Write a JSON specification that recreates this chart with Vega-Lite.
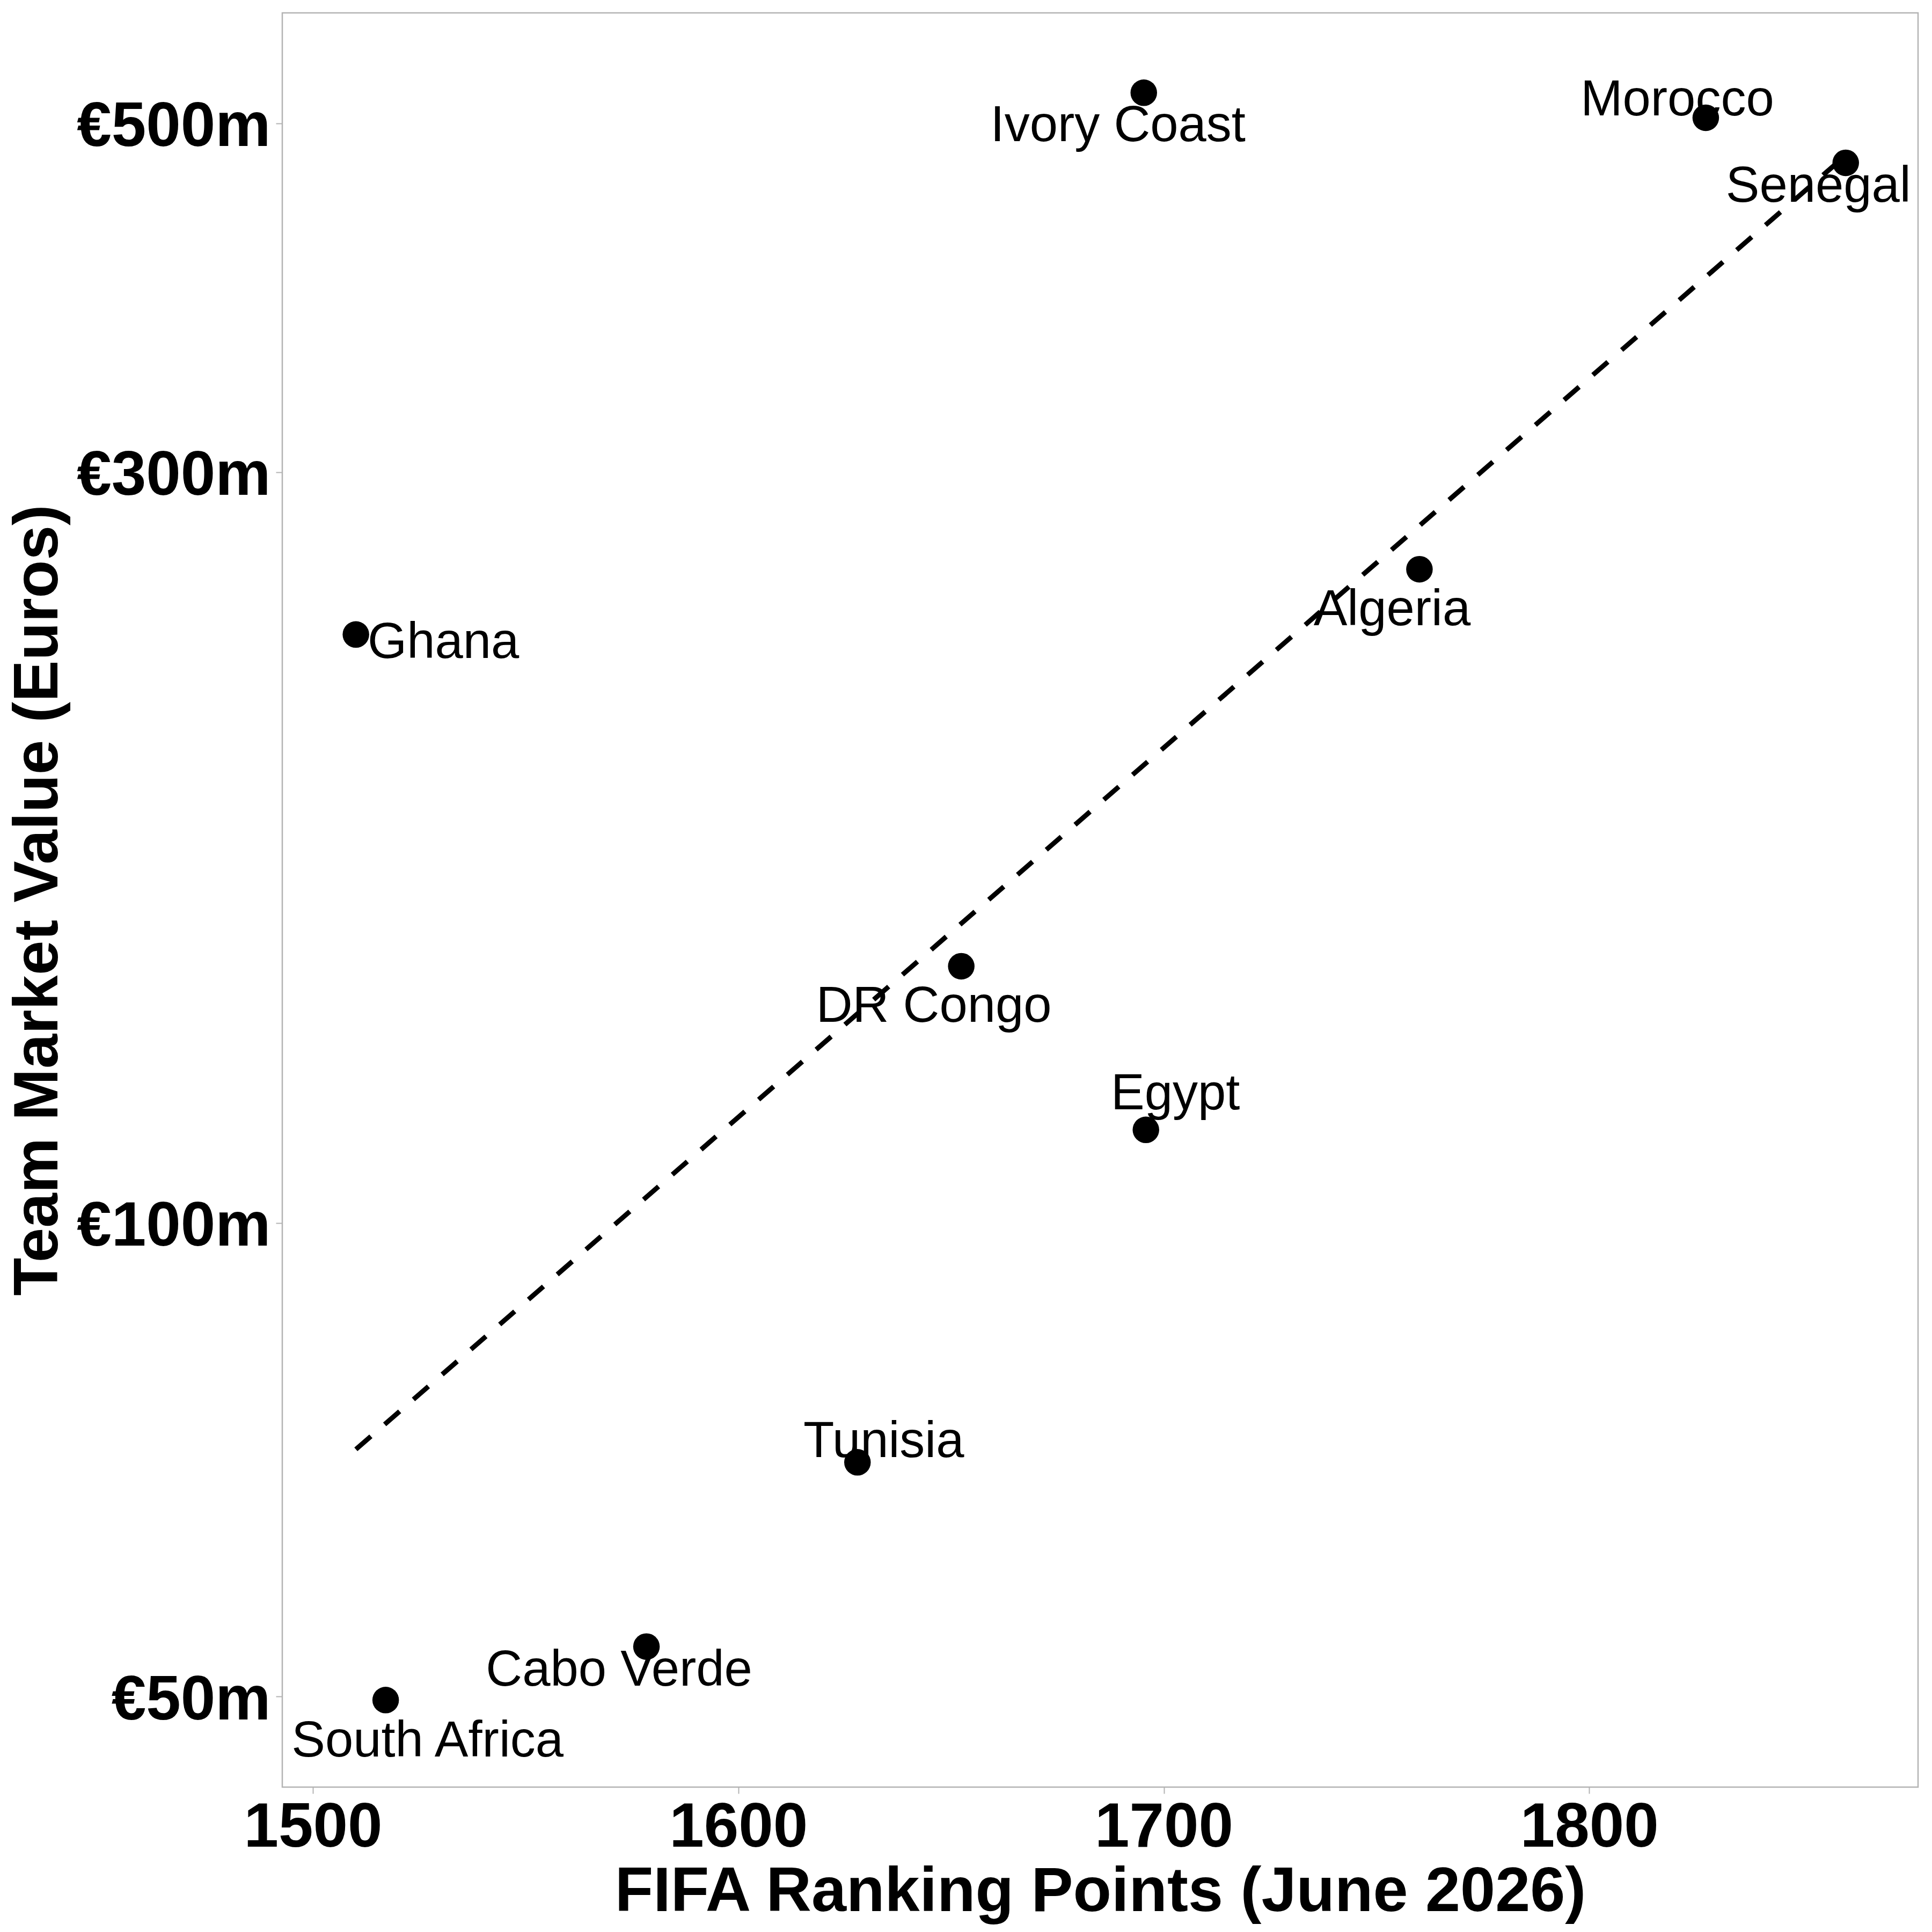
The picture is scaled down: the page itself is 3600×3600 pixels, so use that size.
{
  "$schema": "https://vega.github.io/schema/vega-lite/v6.json",
  "width": 3048,
  "height": 3306,
  "autosize": {"type": "none"},
  "padding": {"left": 526, "top": 24, "right": 26, "bottom": 270},
  "background": "white",
  "config": {
    "view": {"stroke": "#b3b3b3", "strokeWidth": 2.5},
    "font": "Liberation Sans"
  },
  "datasets": {
    "teams": [
      {"country": "Ivory Coast", "points": 1695.3, "value": 522.8},
      {"country": "Morocco", "points": 1827.4, "value": 504},
      {"country": "Senegal", "points": 1860.3, "value": 471.8},
      {"country": "Algeria", "points": 1760.1, "value": 260.3},
      {"country": "Ghana", "points": 1510.1, "value": 236.6},
      {"country": "DR Congo", "points": 1652.4, "value": 145.6},
      {"country": "Egypt", "points": 1695.8, "value": 114.6},
      {"country": "Tunisia", "points": 1628.0, "value": 70.45},
      {"country": "Cabo Verde", "points": 1578.4, "value": 53.8},
      {"country": "South Africa", "points": 1517.1, "value": 49.75}
    ],
    "trend": [
      {"points": 1510.1, "value": 71.8},
      {"points": 1860.3, "value": 477}
    ]
  },
  "data": {"name": "teams"},
  "encoding": {
    "x": {
      "field": "points",
      "type": "quantitative",
      "scale": {"domain": [1492.8, 1877.3], "nice": false, "zero": false},
      "axis": {
        "title": "FIFA Ranking Points (June 2026)",
        "values": [1500, 1600, 1700, 1800],
        "format": "d",
        "grid": false,
        "domain": false,
        "ticks": true,
        "tickColor": "#b3b3b3",
        "tickWidth": 2,
        "tickSize": 12,
        "labelFont": "Liberation Sans",
        "labelFontWeight": "bold",
        "labelFontSize": 116,
        "labelColor": "black",
        "labelPadding": 6,
        "labelBaseline": "top",
        "labelLimit": 2000,
        "labelFlush": false,
        "labelOverlap": false,
        "titleFont": "Liberation Sans",
        "titleFontWeight": "bold",
        "titleFontSize": 117,
        "titleColor": "black",
        "titleLimit": 4000,
        "titleX": 1524,
        "titleY": 230,
        "titleBaseline": "alphabetic",
        "titleAlign": "center"
      }
    },
    "y": {
      "field": "value",
      "type": "quantitative",
      "scale": {"type": "log", "domain": [43.8, 587.6], "nice": false},
      "axis": {
        "title": "Team Market Value (Euros)",
        "values": [50, 100, 300, 500],
        "labelExpr": "'€' + datum.value + 'm'",
        "grid": false,
        "domain": false,
        "ticks": true,
        "tickColor": "#b3b3b3",
        "tickWidth": 2,
        "tickSize": 12,
        "labelFont": "Liberation Sans",
        "labelFontWeight": "bold",
        "labelFontSize": 116,
        "labelColor": "black",
        "labelPadding": 10,
        "labelBaseline": "alphabetic",
        "labelOffset": 42,
        "labelLimit": 2000,
        "labelFlush": false,
        "labelOverlap": false,
        "titleFont": "Liberation Sans",
        "titleFontWeight": "bold",
        "titleFontSize": 116,
        "titleColor": "black",
        "titleLimit": 4000,
        "titleX": -420,
        "titleY": 1653,
        "titleAngle": 270,
        "titleBaseline": "alphabetic",
        "titleAlign": "center"
      }
    }
  },
  "layer": [
    {
      "data": {"name": "trend"},
      "mark": {"type": "line", "color": "black", "strokeWidth": 9, "strokeDash": [37, 34], "strokeCap": "butt"}
    },
    {
      "mark": {"type": "circle", "color": "black", "opacity": 1, "size": 2450}
    },
    {
      "transform": [{"filter": "datum.country === 'Ivory Coast'"}],
      "mark": {"type": "text", "font": "Liberation Sans", "fontSize": 94, "color": "black", "align": "center", "baseline": "alphabetic", "dx": -48, "dy": 90},
      "encoding": {"text": {"field": "country"}}
    },
    {
      "transform": [{"filter": "datum.country === 'Morocco'"}],
      "mark": {"type": "text", "font": "Liberation Sans", "fontSize": 94, "color": "black", "align": "center", "baseline": "alphabetic", "dx": -53, "dy": -4},
      "encoding": {"text": {"field": "country"}}
    },
    {
      "transform": [{"filter": "datum.country === 'Senegal' || datum.country === 'Cabo Verde'"}],
      "mark": {"type": "text", "font": "Liberation Sans", "fontSize": 94, "color": "black", "align": "center", "baseline": "alphabetic", "dx": -51, "dy": 73},
      "encoding": {"text": {"field": "country"}}
    },
    {
      "transform": [{"filter": "datum.country === 'Algeria' || datum.country === 'DR Congo'"}],
      "mark": {"type": "text", "font": "Liberation Sans", "fontSize": 94, "color": "black", "align": "center", "baseline": "alphabetic", "dx": -51, "dy": 104},
      "encoding": {"text": {"field": "country"}}
    },
    {
      "transform": [{"filter": "datum.country === 'Ghana'"}],
      "mark": {"type": "text", "font": "Liberation Sans", "fontSize": 94, "color": "black", "align": "center", "baseline": "alphabetic", "dx": 163, "dy": 44},
      "encoding": {"text": {"field": "country"}}
    },
    {
      "transform": [{"filter": "datum.country === 'Egypt'"}],
      "mark": {"type": "text", "font": "Liberation Sans", "fontSize": 94, "color": "black", "align": "center", "baseline": "alphabetic", "dx": 55, "dy": -38},
      "encoding": {"text": {"field": "country"}}
    },
    {
      "transform": [{"filter": "datum.country === 'Tunisia'"}],
      "mark": {"type": "text", "font": "Liberation Sans", "fontSize": 94, "color": "black", "align": "center", "baseline": "alphabetic", "dx": 49, "dy": -10},
      "encoding": {"text": {"field": "country"}}
    },
    {
      "transform": [{"filter": "datum.country === 'South Africa'"}],
      "mark": {"type": "text", "font": "Liberation Sans", "fontSize": 94, "color": "black", "align": "center", "baseline": "alphabetic", "dx": 78, "dy": 105},
      "encoding": {"text": {"field": "country"}}
    }
  ]
}
